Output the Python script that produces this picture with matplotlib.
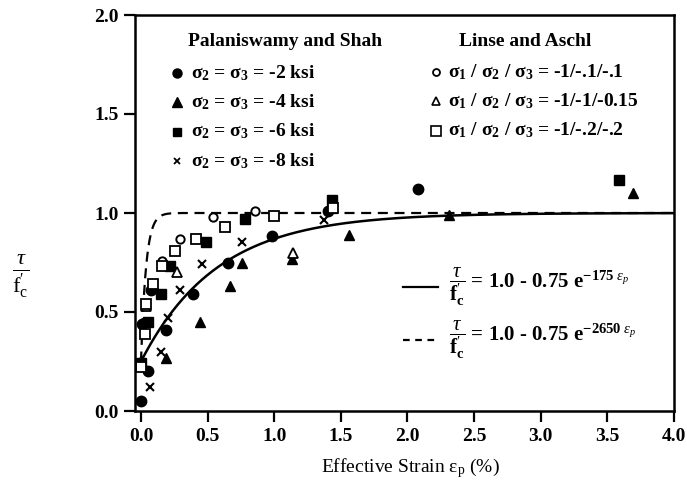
import numpy as np
import matplotlib
matplotlib.use("Agg")
import matplotlib.pyplot as plt

plt.rcParams["font.family"] = ["Liberation Serif", "DejaVu Serif"]
plt.rcParams["mathtext.fontset"] = "custom"
plt.rcParams["mathtext.rm"] = "Liberation Serif"
plt.rcParams["mathtext.it"] = "Liberation Serif:italic"
plt.rcParams["mathtext.bf"] = "Liberation Serif:bold"

# Palaniswamy and Shah (filled symbols): effective strain (%) and tau/f'c
ps2_x = [0.00, 0.055, 0.19, 0.39, 0.65, 0.98, 1.40, 2.08, 0.075, 0.01]
ps2_y = [0.05, 0.20, 0.41, 0.59, 0.75, 0.885, 1.01, 1.12, 0.61, 0.44]
ps4_x = [0.00, 0.19, 0.44, 0.67, 0.76, 1.13, 1.56, 2.31, 3.69]
ps4_y = [0.26, 0.27, 0.45, 0.63, 0.75, 0.77, 0.89, 0.99, 1.10]
ps6_x = [0.00, 0.05, 0.15, 0.22, 0.49, 0.78, 1.43, 3.59]
ps6_y = [0.24, 0.45, 0.59, 0.73, 0.855, 0.97, 1.065, 1.166]
ps8_x = [0.068, 0.15, 0.20, 0.29, 0.455, 0.76, 1.37]
ps8_y = [0.12, 0.30, 0.47, 0.61, 0.74, 0.855, 0.965]

# Linse and Aschl (open symbols)
la1_x = [0.155, 0.29, 0.54, 0.855]
la1_y = [0.76, 0.87, 0.98, 1.01]
la2_x = [0.04, 0.27, 1.14]
la2_y = [0.53, 0.70, 0.80]
la3_x = [0.00, 0.03, 0.04, 0.09, 0.155, 0.255, 0.41, 0.63, 1.00, 1.44]
la3_y = [0.22, 0.39, 0.54, 0.64, 0.73, 0.81, 0.87, 0.93, 0.985, 1.025]

# Model curves tau/f'c = 1.0 - 0.75 exp(-k * eps_p), eps_p as a fraction
k_solid = 175
k_dashed = 2650

x_ticks = [0.0, 0.5, 1.0, 1.5, 2.0, 2.5, 3.0, 3.5, 4.0]
y_ticks = [0.0, 0.5, 1.0, 1.5, 2.0]

W, H = 687, 488
fig = plt.figure(figsize=(W / 100, H / 100), dpi=100)
ax = fig.add_axes([135 / W, 1 - 411 / H, (674 - 135) / W, (411 - 15) / H])

eps = np.linspace(0, 4.0, 2000)
ax.plot(eps, 1.0 - 0.75 * np.exp(-k_solid * eps / 100), color="black", lw=1.8)
ax.plot(eps, 1.0 - 0.75 * np.exp(-k_dashed * eps / 100), color="black", lw=1.6,
        ls=(0, (4.5, 3)))

ms = 7.5
ax.plot(ps2_x, ps2_y, "o", color="black", ms=ms, clip_on=False)
ax.plot(ps4_x, ps4_y, "^", color="black", ms=ms, clip_on=False)
ax.plot(ps6_x, ps6_y, "s", color="black", ms=ms - 1, clip_on=False)
ax.plot(ps8_x, ps8_y, "x", color="black", ms=ms - 1.5, mew=1.5, clip_on=False)
ax.plot(la1_x, la1_y, "o", mfc="white", mec="black", ms=ms - 1.5, mew=1.4, clip_on=False)
ax.plot(la2_x, la2_y, "^", mfc="white", mec="black", ms=ms - 1, mew=1.3, clip_on=False)
ax.plot(la3_x, la3_y, "s", mfc="white", mec="black", ms=ms - 0.5, mew=1.3, clip_on=False)

ax.set_xlim(-0.045, 4.0)
ax.set_ylim(0.0, 2.0)
ax.set_xticks(x_ticks)
ax.set_yticks(y_ticks)
ax.set_xticklabels([f"{v:.1f}" for v in x_ticks])
ax.set_yticklabels([f"{v:.1f}" for v in y_ticks])
for s in ax.spines.values():
    s.set_linewidth(1.8)
ax.tick_params(direction="out", length=8, width=1.6, labelsize=14, pad=4)
for lab in ax.get_xticklabels() + ax.get_yticklabels():
    lab.set_fontweight("bold")

fig.text(410 / W, 1 - 468 / H, r"Effective Strain $\mathrm{\epsilon_p}$ (%)",
         ha="center", va="center", fontsize=14)
fig.text(21 / W, 1 - 276 / H, r"$\frac{\tau}{\mathrm{f}^{\prime}_{\mathrm{c}}}$",
         ha="center", va="center", fontsize=23)


def fx(px):
    return px / W


def fy(py):
    return 1 - py / H


fs = 14
fig.text(fx(285), fy(42), "Palaniswamy and Shah", ha="center", va="center",
         fontsize=fs, fontweight="bold")
fig.text(fx(525), fy(41), "Linse and Aschl", ha="center", va="center",
         fontsize=fs, fontweight="bold")

ps_labels = [r"$\mathbf{\sigma_2}$ = $\mathbf{\sigma_3}$ = -2 ksi",
             r"$\mathbf{\sigma_2}$ = $\mathbf{\sigma_3}$ = -4 ksi",
             r"$\mathbf{\sigma_2}$ = $\mathbf{\sigma_3}$ = -6 ksi",
             r"$\mathbf{\sigma_2}$ = $\mathbf{\sigma_3}$ = -8 ksi"]
ps_styles = [dict(marker="o", color="black", ms=6.5),
             dict(marker="^", color="black", ms=6.5),
             dict(marker="s", color="black", ms=5.5),
             dict(marker="x", color="black", ms=5, mew=1.3)]
for i, (lab, st) in enumerate(zip(ps_labels, ps_styles)):
    yy = 73 + i * 29.3
    fig.add_artist(plt.Line2D([fx(177)], [fy(yy)], ls="none", **st))
    fig.text(fx(191), fy(yy), lab, ha="left", va="center", fontsize=fs,
             fontweight="bold")

la_labels = [r"$\mathbf{\sigma_1}$ / $\mathbf{\sigma_2}$ / $\mathbf{\sigma_3}$ = -1/-.1/-.1",
             r"$\mathbf{\sigma_1}$ / $\mathbf{\sigma_2}$ / $\mathbf{\sigma_3}$ = -1/-1/-0.15",
             r"$\mathbf{\sigma_1}$ / $\mathbf{\sigma_2}$ / $\mathbf{\sigma_3}$ = -1/-.2/-.2"]
la_styles = [dict(marker="o", mfc="white", mec="black", ms=5, mew=1.3),
             dict(marker="^", mfc="white", mec="black", ms=5.5, mew=1.2),
             dict(marker="s", mfc="white", mec="black", ms=6.5, mew=1.2)]
for i, (lab, st) in enumerate(zip(la_labels, la_styles)):
    yy = 72 + i * 29.3
    fig.add_artist(plt.Line2D([fx(436)], [fy(yy)], ls="none", **st))
    fig.text(fx(448), fy(yy), lab, ha="left", va="center", fontsize=fs,
             fontweight="bold")

# Equation key for the two curves
eq_rows = [(287, "-", k_solid), (340, (0, (3, 2.5)), k_dashed)]
for yy, style, k in eq_rows:
    fig.add_artist(plt.Line2D([fx(403), fx(438)], [fy(yy), fy(yy)], color="black",
                              lw=1.6, ls=style))
    fig.text(fx(449), fy(yy),
             r"$\dfrac{\tau}{\mathbf{f}^{\prime}_{\mathbf{c}}}$ = 1.0 - 0.75 e$^{\mathbf{-%d}\ \epsilon_p}$" % k,
             ha="left", va="center", fontsize=15, fontweight="bold")

fig.savefig("out.png", dpi=100)
